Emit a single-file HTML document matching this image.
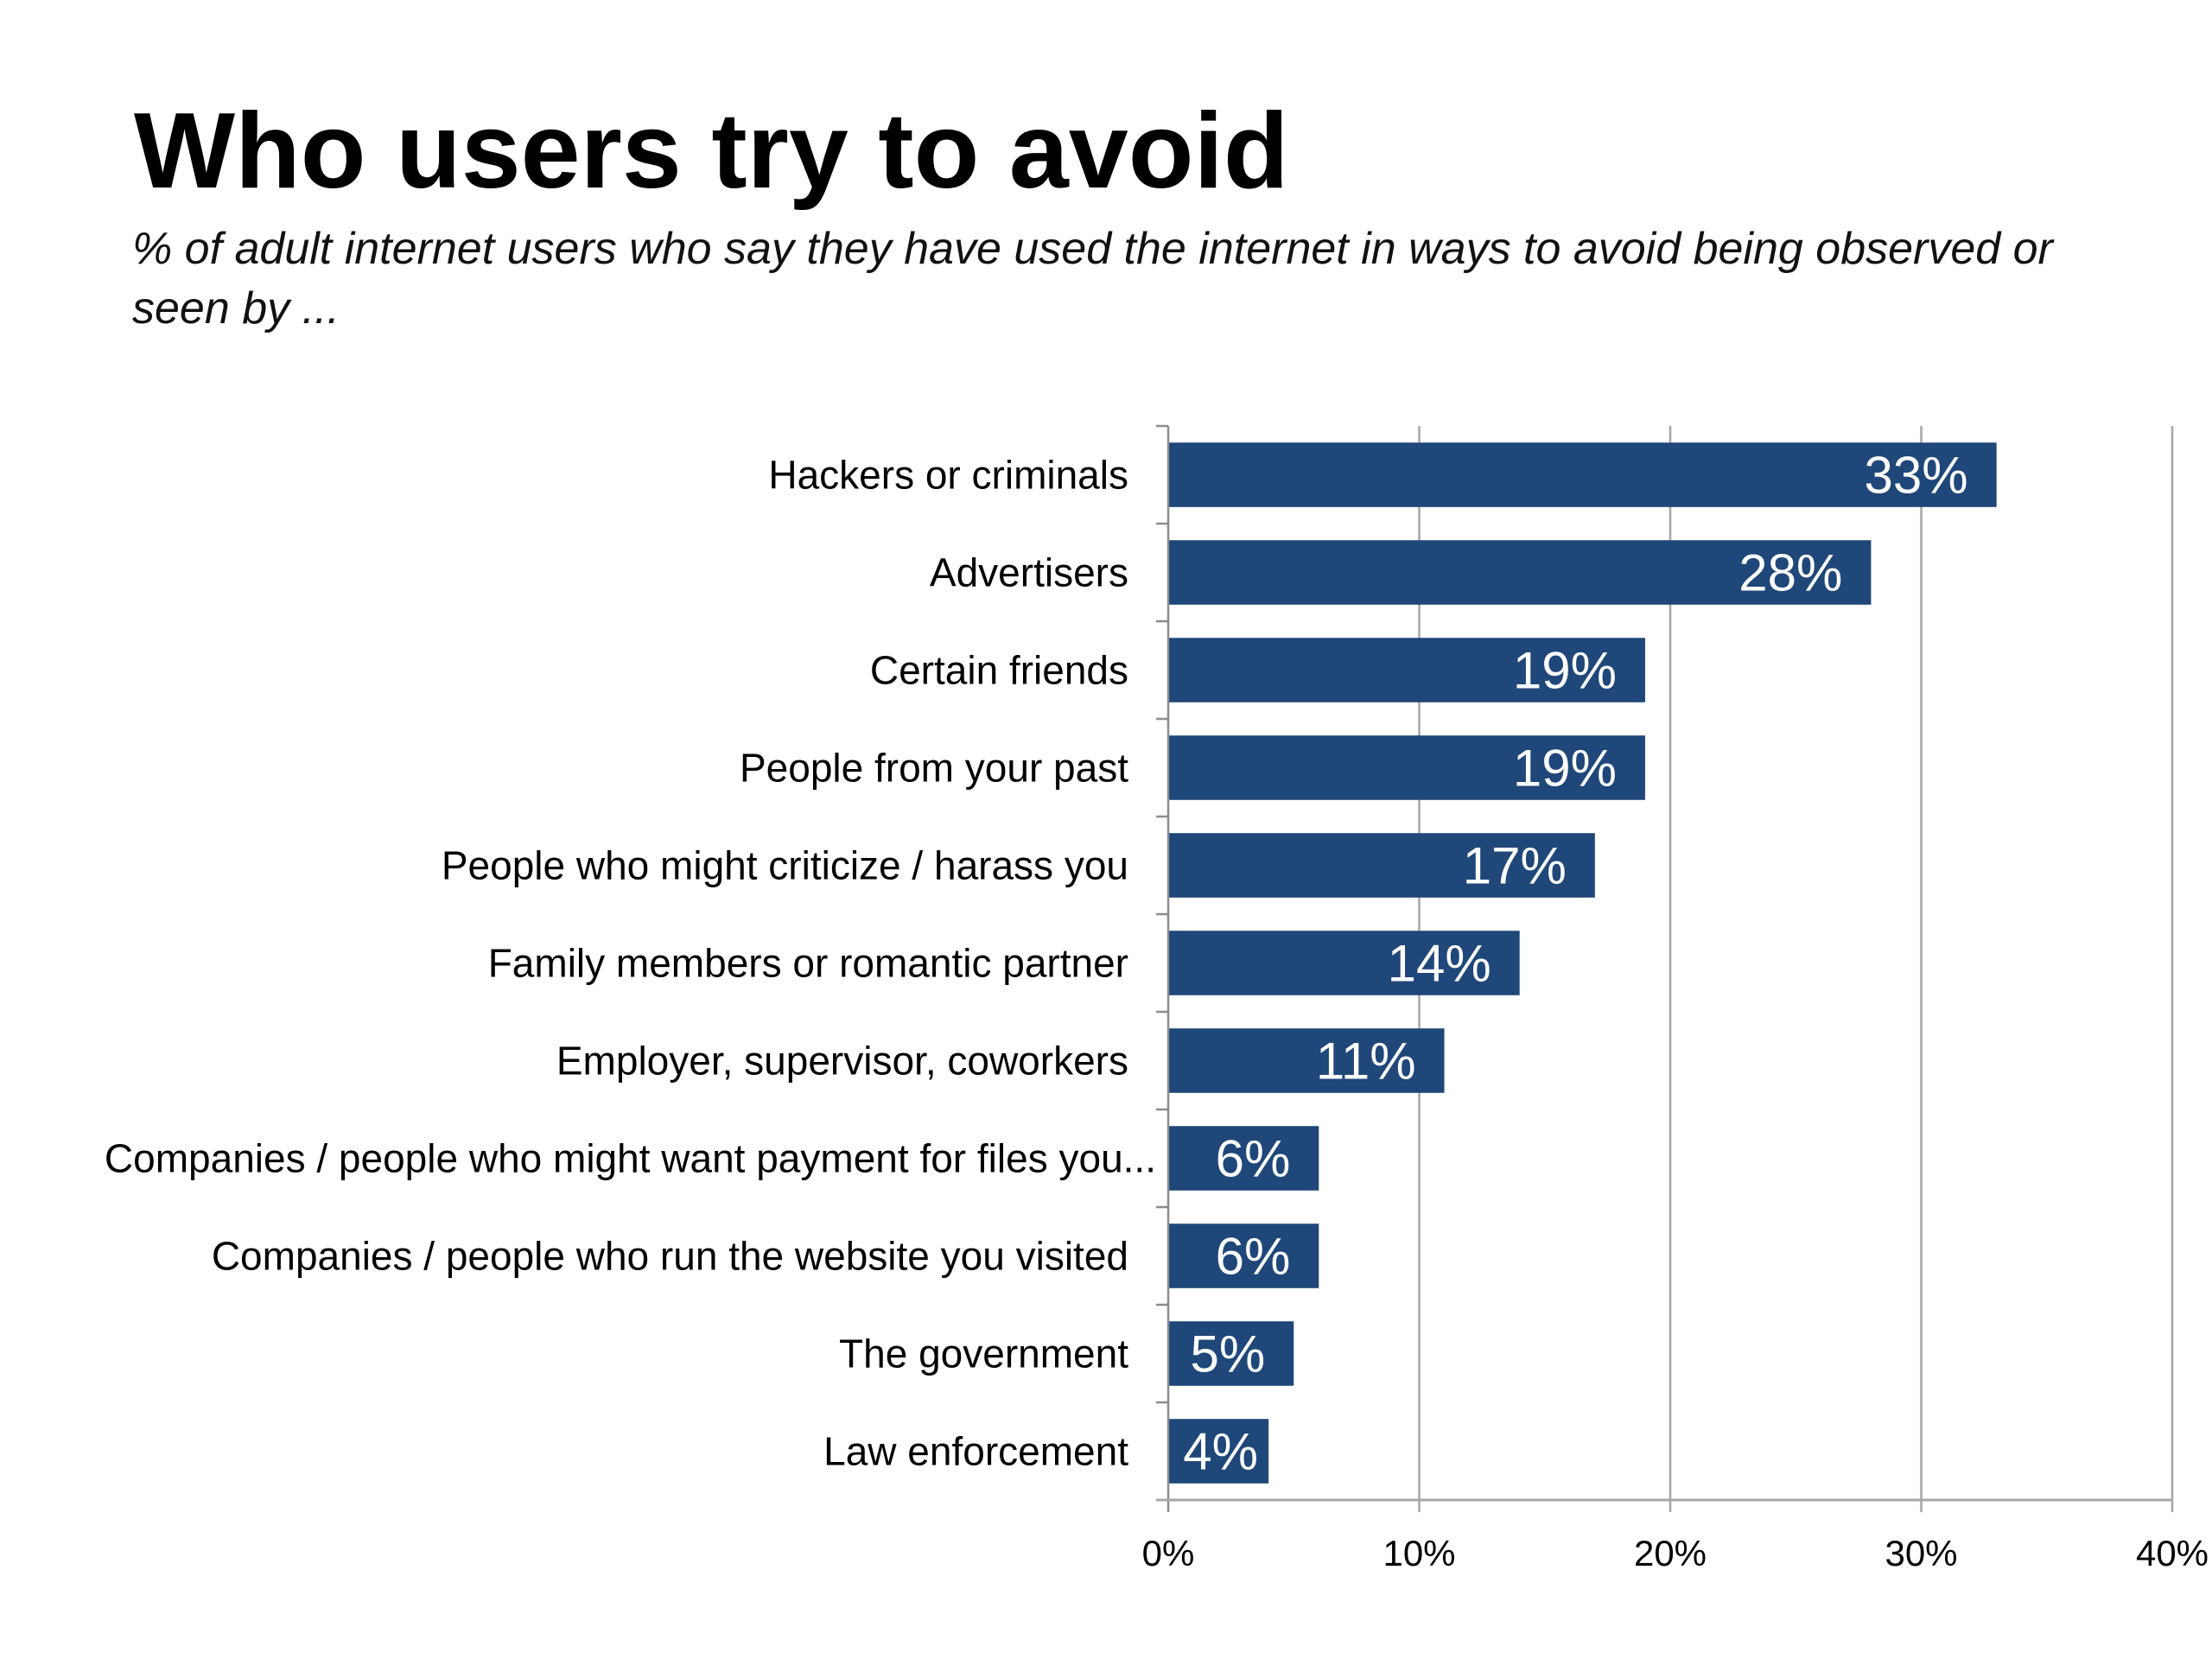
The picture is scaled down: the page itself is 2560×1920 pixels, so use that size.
<!DOCTYPE html>
<html><head><meta charset="utf-8"><style>
html,body{margin:0;padding:0;background:#fff;width:2560px;height:1920px;overflow:hidden}
svg{display:block}
</style></head><body>
<svg id="chart" width="2560" height="1920" font-family="'Liberation Sans', sans-serif">
<text x="155" y="217" font-size="124" font-weight="bold" fill="#000">Who users try to avoid</text>
<text x="153" y="305" font-size="52" font-style="italic" fill="#111">% of adult internet users who say they have used the internet in ways to avoid being observed or</text>
<text x="153" y="374" font-size="52" font-style="italic" fill="#111">seen by ...</text>
<g id="grid"></g><g id="bars"></g><g id="axes"></g><g id="labels"></g>
</svg>
<script>
const categories = ["Hackers or criminals","Advertisers","Certain friends","People from your past","People who might criticize / harass you","Family members or romantic partner","Employer, supervisor, coworkers","Companies / people who might want payment for files you...","Companies / people who run the website you visited","The government","Law enforcement"];
const values = [33,28,19,19,17,14,11,6,6,5,4];
const valueLabels = ["33%","28%","19%","19%","17%","14%","11%","6%","6%","5%","4%"];
const ticks = [0,10,20,30,40];
const tickLabels = ["0%","10%","20%","30%","40%"];

const NS="http://www.w3.org/2000/svg";
const X0=1352, X1=2514, Y0=493, Y1=1736, MAX=40;
const xs=v=>X0+(v/MAX)*(X1-X0);
const band=(Y1-Y0)/categories.length;
const yb=i=>Y0+i*band;
function mk(tag,attrs,parent){const e=document.createElementNS(NS,tag);for(const k in attrs)e.setAttribute(k,attrs[k]);document.getElementById(parent).appendChild(e);return e;}

ticks.forEach((t,i)=>{
  if(t>0){const g=mk('line',{x1:xs(t),x2:xs(t),y1:Y0,y2:Y1+14,stroke:'#a6a6a6','stroke-width':2.5},'grid');
  
  }
  const tl=mk('text',{x:xs(t),y:1812,'font-size':42,'text-anchor':'middle',fill:'#000'},'labels');
  tl.textContent=tickLabels[i];
  
  
});
categories.forEach((c,i)=>{
  const h=band*0.66, y=yb(i)+(band-h)/2;
  const r=mk('rect',{x:X0,y:y,width:xs(values[i])-X0,height:h,fill:'#1f4779'},'bars');
  
  
  const lw=valueLabels[i].length*42;
  const vx=Math.max(xs(values[i])-33, X0+20+lw);
  const v=mk('text',{x:vx,y:y+h/2+21,'font-size':60,'text-anchor':'end',fill:'#fff'},'labels');
  v.textContent=valueLabels[i];
  
  
  const ax= i===7 ? 1338 : 1306;
  const l=mk('text',{x:ax,y:yb(i)+band/2+16,'font-size':46,'text-anchor':'end',fill:'#000'},'labels');
  l.textContent=c;
  
  
  const tk=mk('line',{x1:X0-14,x2:X0,y1:yb(i),y2:yb(i),stroke:'#8c8c8c','stroke-width':2.5},'axes');
  
  
});
const ya=mk('line',{x1:X0,x2:X0,y1:Y0,y2:Y1+14,stroke:'#8c8c8c','stroke-width':2.5},'axes');


const xa=mk('line',{x1:X0-14,x2:X1,y1:Y1,y2:Y1,stroke:'#a6a6a6','stroke-width':3},'axes');


</script>
</body></html>
